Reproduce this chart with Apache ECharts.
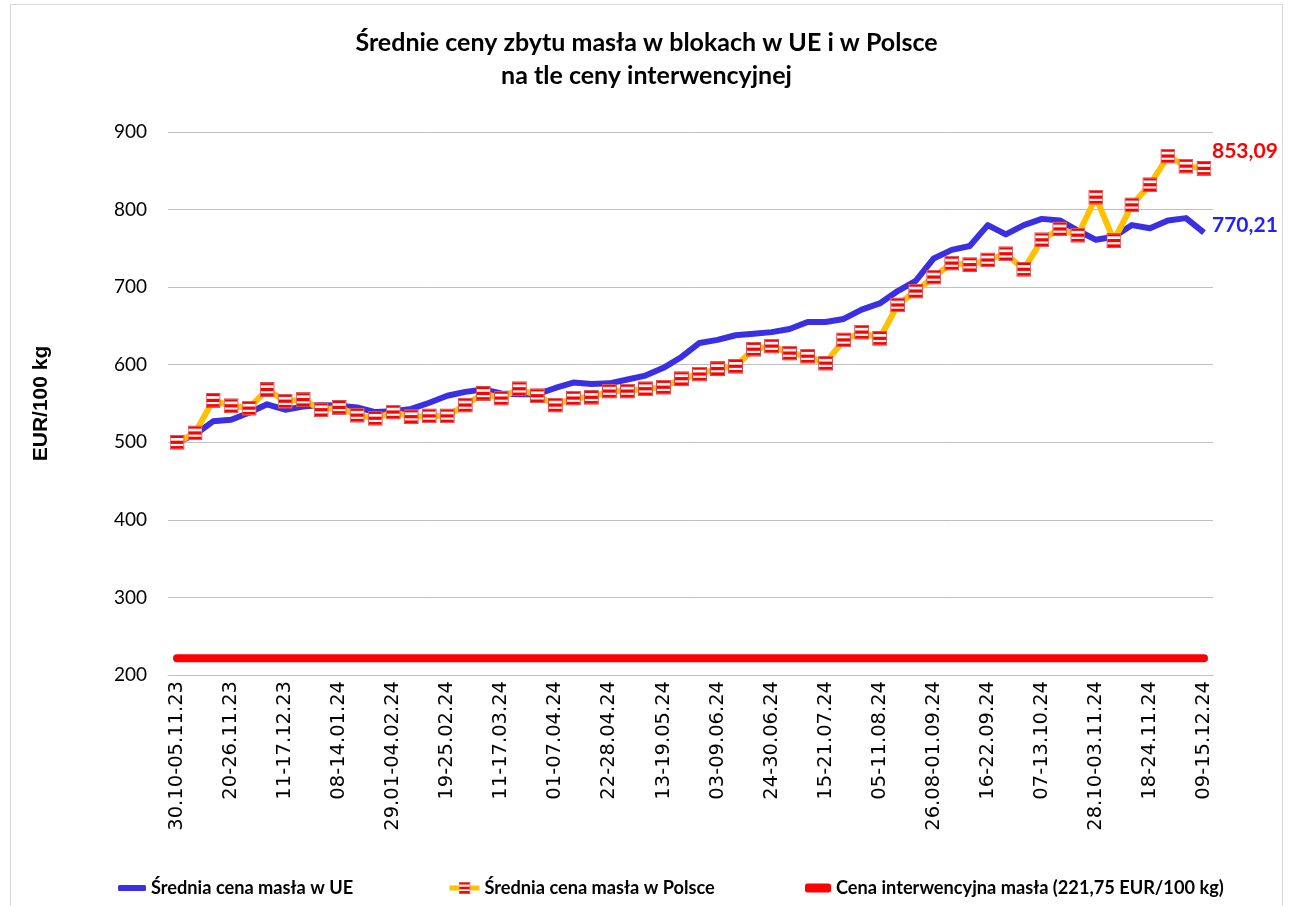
<!DOCTYPE html>
<html>
<head>
<meta charset="utf-8">
<script src="https://cdn.jsdelivr.net/npm/echarts@6/dist/echarts.min.js"></script>
<style>
  html, body { margin: 0; padding: 0; background: #fff; }
  #frame { position: absolute; left: 10px; top: 4px; width: 1273px; height: 902px; border: 1px solid #d9d9d9; border-bottom: none; box-sizing: border-box; }
  #chart { position: absolute; left: 0; top: 0; width: 1293px; height: 906px; }
</style>
</head>
<body>
<div id="frame"></div>
<div id="chart"></div>
<script>
const categories = [
  '30.10-05.11.23','06-12.11.23','13-19.11.23','20-26.11.23','27.11-03.12.23','04-10.12.23',
  '11-17.12.23','18-24.12.23','01-07.01.24','08-14.01.24','15-21.01.24','22-28.01.24',
  '29.01-04.02.24','05-11.02.24','12-18.02.24','19-25.02.24','26.02-03.03.24','04-10.03.24',
  '11-17.03.24','18-24.03.24','25-31.03.24','01-07.04.24','08-14.04.24','15-21.04.24',
  '22-28.04.24','29.04-05.05.24','06-12.05.24','13-19.05.24','20-26.05.24','27.05-02.06.24',
  '03-09.06.24','10-16.06.24','17-23.06.24','24-30.06.24','01-07.07.24','08-14.07.24',
  '15-21.07.24','22-28.07.24','29.07-04.08.24','05-11.08.24','12-18.08.24','19-25.08.24',
  '26.08-01.09.24','02-08.09.24','09-15.09.24','16-22.09.24','23-29.09.24','30.09-06.10.24',
  '07-13.10.24','14-20.10.24','21-27.10.24','28.10-03.11.24','04-10.11.24','11-17.11.24',
  '18-24.11.24','25.11-01.12.24','02-08.12.24','09-15.12.24'
];
const euPrice = [
  500,510,527,529,538,549,542,546,548,547,545,539,
  540,543,551,560,565,568,563,562,562,570,577,575,
  576,581,586,596,610,628,632,638,640,642,646,655,
  655,659,671,679,695,708,737,748,753,780,768,780,
  788,786,773,761,765,780,776,786,789,770.21
];
const plPrice = [
  500,512,554,547,544,568,553,555,542,545,535,531,
  539,533,534,534,548,563,557,569,560,548,557,558,
  566,566,569,571,582,588,595,598,620,624,615,611,
  602,632,642,634,677,695,713,731,729,735,743,723,
  761,775,767,816,760,806,832,869,856,853.09
];
const interventionPrice = 221.75;
const yTicks = { min: 200, max: 900, interval: 100 };
const seriesNames = ['Średnia cena masła w UE', 'Średnia cena masła w Polsce', 'Cena interwencyjna masła (221,75 EUR/100 kg)'];
const titleText = 'Średnie ceny zbytu masła w blokach w UE i w Polsce\nna tle ceny interwencyjnej';
const yName = 'EUR/100 kg';

const markerSvg = '<svg xmlns="http://www.w3.org/2000/svg" width="30" height="30" viewBox="0 0 14 14">' +
  '<rect x="0.5" y="0.5" width="13" height="13" fill="#ffffff" stroke="#d24b4b" stroke-width="1"/>' +
  '<rect x="1" y="1" width="12" height="2" fill="#ff0000"/>' +
  '<rect x="1" y="5.5" width="12" height="3" fill="#ff0000"/>' +
  '<rect x="1" y="10.5" width="12" height="2.5" fill="#ff0000"/>' +
  '</svg>';
const markerImg = 'image://data:image/svg+xml;charset=utf-8,' + encodeURIComponent(markerSvg);

const fmt = v => v.toFixed(2).replace('.', ',');
const FONT = 'Lato, "Open Sans", sans-serif';
const legendText = { fontFamily: FONT, fontSize: 18.2, fontWeight: 'bold', color: '#000' };

const chart = echarts.init(document.getElementById('chart'), null, { renderer: 'canvas' });
chart.setOption({
  animation: false,
  backgroundColor: 'transparent',
  textStyle: { fontFamily: FONT },
  title: {
    text: titleText,
    left: 'center',
    top: 21,
    textStyle: { fontFamily: FONT, fontSize: 25, fontWeight: 'bold', color: '#000', lineHeight: 33 }
  },
  grid: { left: 168, right: 80, top: 132, bottom: 231, containLabel: false },
  legend: [
    {
      left: 113, top: 874, itemWidth: 28, itemHeight: 6, icon: 'roundRect',
      textStyle: legendText, data: [seriesNames[0]]
    },
    {
      left: 442, top: 874, itemWidth: 30, itemHeight: 15,
      lineStyle: { width: 5 },
      textStyle: legendText, data: [seriesNames[1]]
    },
    {
      left: 800, top: 874, itemWidth: 26, itemHeight: 9, icon: 'roundRect',
      textStyle: legendText, data: [seriesNames[2]]
    }
  ],
  xAxis: {
    type: 'category',
    data: categories,
    boundaryGap: true,
    axisLine: { lineStyle: { color: '#bfbfbf', width: 1 } },
    axisTick: { show: false },
    axisLabel: { interval: 2, rotate: 90, fontSize: 19.5, color: '#000', margin: 6, fontFamily: '"DejaVu Sans", sans-serif' }
  },
  yAxis: {
    type: 'value',
    min: yTicks.min,
    max: yTicks.max,
    interval: yTicks.interval,
    name: yName,
    nameLocation: 'middle',
    nameGap: 116,
    nameRotate: 90,
    nameTextStyle: { fontFamily: '"Liberation Sans", Arial, sans-serif', fontSize: 21, fontWeight: 'bold', color: '#000' },
    axisLine: { show: false },
    axisTick: { show: false },
    splitLine: { lineStyle: { color: '#bfbfbf', width: 1 } },
    axisLabel: { fontSize: 19, color: '#000', margin: 21, fontFamily: FONT }
  },
  series: [
    {
      name: seriesNames[2],
      type: 'line',
      data: categories.map(() => interventionPrice),
      symbol: 'none',
      z: 1,
      color: '#ff0000',
      lineStyle: { color: '#ff0000', width: 8, cap: 'round' }
    },
    {
      name: seriesNames[0],
      type: 'line',
      data: euPrice,
      symbol: 'none',
      z: 2,
      color: '#3a2fe3',
      lineStyle: { color: '#3a2fe3', width: 6, join: 'round' },
      endLabel: {
        show: true,
        formatter: p => fmt(p.value),
        color: '#1f1fff',
        fontFamily: FONT,
        fontSize: 21,
        fontWeight: 'bold',
        distance: 8,
        offset: [0, -7]
      }
    },
    {
      name: seriesNames[1],
      type: 'line',
      data: plPrice,
      symbol: markerImg,
      symbolSize: 15,
      showAllSymbol: true,
      z: 3,
      color: '#ffc000',
      lineStyle: { color: '#ffc000', width: 6, join: 'round' },
      endLabel: {
        show: true,
        formatter: p => fmt(p.value),
        color: '#ff0000',
        fontFamily: FONT,
        fontSize: 21,
        fontWeight: 'bold',
        distance: 8,
        offset: [0, -17]
      }
    }
  ]
});
</script>
</body>
</html>
